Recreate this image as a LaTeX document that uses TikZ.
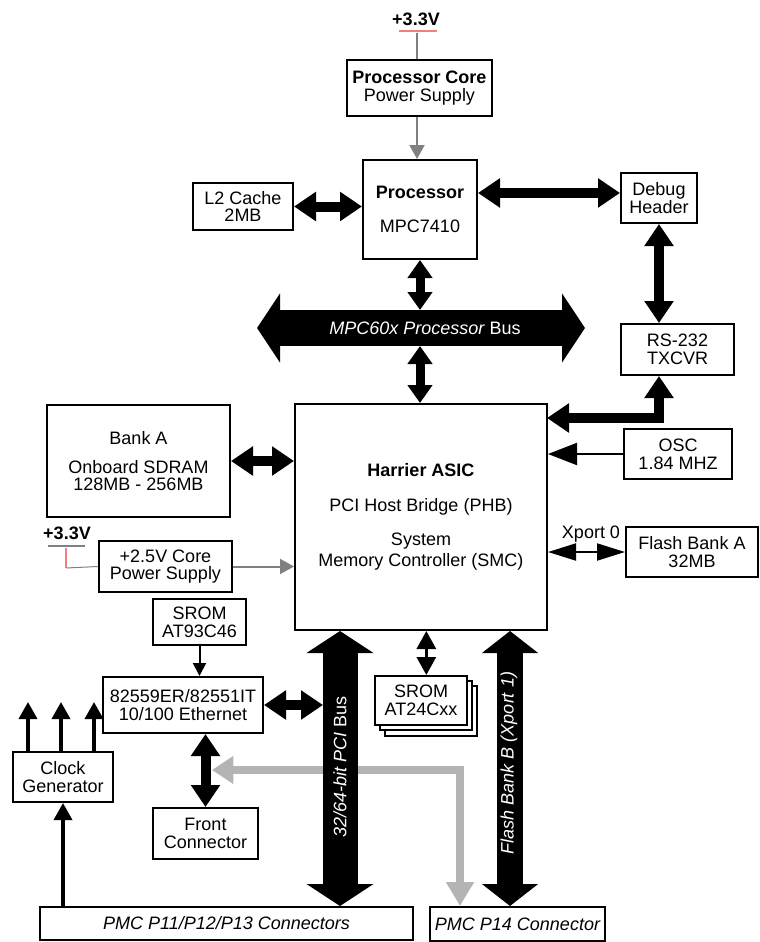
\documentclass[tikz,border=0pt]{standalone}
\usepackage{fontspec}
\setmainfont{Liberation Sans}
\usetikzlibrary{arrows.meta}
\definecolor{lred}{RGB}{240,128,128}
\definecolor{gline}{RGB}{128,128,128}
\definecolor{lgray}{RGB}{180,180,180}
\newcommand\fs{\fontsize{13.5pt}{13.3pt}\selectfont}
\tikzset{
 box/.style={draw, line width=1.5pt, inner sep=0pt, align=center, font=\fs, fill=white},
 sz/.style 2 args={minimum width=#1*0.75pt, minimum height=#2*0.75pt},
 fat/.style={line width=7.5pt, {Triangle[length=16.5pt,width=21pt]}-{Triangle[length=16.5pt,width=21pt]}},
 fats/.style={line width=6.75pt, {Triangle[length=13.5pt,width=18pt]}-{Triangle[length=13.5pt,width=18pt]}},
 mpcbus/.style={line width=27pt, {Triangle[length=17.25pt,width=51pt]}-{Triangle[length=17.25pt,width=51pt]}},
 pcibus/.style={line width=26.25pt, {Triangle[length=16.5pt,width=49.5pt]}-{Triangle[length=16.5pt,width=49.5pt]}},
 fbbus/.style={line width=19.5pt, {Triangle[length=16.5pt,width=41.25pt]}-{Triangle[length=16.5pt,width=41.25pt]}},
 oscarrow/.style={line width=1.5pt, -{Triangle[length=21.75pt,width=16.5pt]}},
 xparrow/.style={line width=1.5pt, {Triangle[length=21pt,width=12.75pt]}-{Triangle[length=21pt,width=12.75pt]}},
 sromarrow/.style={line width=1.5pt, -{Triangle[length=9.75pt,width=9.75pt]}},
 s24arrow/.style={line width=2.25pt, {Triangle[length=13.5pt,width=14.25pt]}-{Triangle[length=13.5pt,width=14.25pt]}},
 clkarrow/.style={line width=2.6pt, -{Triangle[length=12.75pt,width=13.5pt]}},
 psarrow/.style={gline, line width=1.5pt, -{Triangle[length=10.5pt,width=11.25pt]}},
 grayarrow/.style={lgray, line width=6pt, {Triangle[length=16pt,width=20pt]}-{Triangle[length=18pt,width=20pt]}},
 bustext/.style={text=white, font=\fs, inner sep=0pt}
}
\begin{document}
\begin{tikzpicture}[x=0.75pt,y=-0.75pt]
\useasboundingbox (0,0) rectangle (760,942);

% boxes
\node[box, sz={145}{56}] (pcps) at (419.5,88) {{\bfseries Processor Core}\\Power Supply};
\node[box, sz={114}{99}] (proc) at (420,209.5) {\textbf{Processor}\\[12pt]MPC7410};
\node[box, sz={100}{47}] (l2) at (243,206.5) {L2 Cache\\2MB};
\node[box, sz={76}{50}] (debug) at (659,198) {Debug\\Header};
\node[box, sz={113}{51}] (rs232) at (677.5,349.5) {RS-232\\TXCVR};
\node[box, sz={252}{226}] (harrier) at (421,517) {\textbf{Harrier ASIC}\\[12.75pt]PCI Host Bridge (PHB)\\[12.4pt]System\\[2pt]Memory Controller (SMC)};
\node[box, sz={108}{50}] (osc) at (678,454) {OSC\\1.84 MHZ};
\node[box, sz={132}{50}] (flashA) at (692,552) {Flash Bank A\\32MB};
\node[box, sz={183}{112}] (bankA) at (138.5,461) {Bank A\\[8.5pt]Onboard SDRAM\\128MB - 256MB};
\node[box, sz={133}{51}] (ps25) at (165.5,566.5) {+2.5V Core\\Power Supply};
\node[box, sz={93}{46}] (srom93) at (199.5,622) {SROM\\AT93C46};
\node[box, sz={160}{56}] (eth) at (183,705) {82559ER/82551IT\\10/100 Ethernet};
\node[box, sz={100}{50}] (clk) at (63,777) {Clock\\Generator};
\node[box, sz={105}{51}] (front) at (205.5,833.5) {Front\\Connector};
\draw[line width=1.5pt, fill=white] (385,686) rectangle (477,736);
\draw[line width=1.5pt, fill=white] (380,681) rectangle (472,730);
\node[box, sz={92}{49}] (srom24) at (421,700.5) {SROM\\AT24Cxx};
\node[box, sz={373}{33}, font=\fs\itshape] (pmc1) at (226.5,923.5) {PMC P11/P12/P13 Connectors};
\node[box, sz={175}{34}, font=\fs\itshape] (pmc14) at (517.5,924) {PMC P14 Connector};

% labels
\node[font=\fs\bfseries, inner sep=0pt] (v33t) at (416,19) {+3.3V};
\node[font=\fs\bfseries, inner sep=0pt] (v33l) at (67,533) {+3.3V};
\node[font=\fs, inner sep=0pt] (xp0) at (591,534) {Xport 0};

% power lines
\coordinate (topv) at (417,33);
\draw[lred, line width=1.5pt] (399,31) -- (437,31);
\draw[gline, line width=1.5pt] (topv) -- (pcps.north -| topv);
\draw[psarrow] (pcps.south -| topv) -- (proc.north -| topv);
\coordinate (lv) at (66,568);
\draw[gline, line width=1.2pt] (48,546) -- (85,546);
\draw[lred, line width=1.2pt] (66,548) -- (lv);
\draw[gline, line width=0.75pt] (lv) -- (ps25.west);
\draw[psarrow] (ps25.east) -- (ps25.east -| harrier.west);

% processor bus
\coordinate (busL) at (257,328);
\coordinate (busR) at (585,328);
\coordinate (busT) at (420,310);
\coordinate (busB) at (420,346);
\draw[mpcbus] (busL) -- (busR);
\node[bustext] (bus) at (425,328) {\itshape MPC60x Processor \upshape Bus};
\draw[fats] (proc.south -| busT) -- (busT);
\draw[fats] (busB) -- (harrier.north -| busB);

% fat connectors
\draw[fat] (l2.east) -- (l2.east -| proc.west);
\draw[fat] ([yshift=12.4pt]proc.east) -- ([yshift=12.4pt]proc.east -| debug.west);
\draw[fat] (debug.south) -- (rs232.north -| debug.south);
\coordinate (rsH) at (547,418);
\draw[fat] (rs232.south -| debug.south) |- (rsH);
\draw[fat] (bankA.east) -- (bankA.east -| harrier.west);
\draw[oscarrow] (osc.west) -- (osc.west -| harrier.east);
\draw[xparrow] (flashA.west) -- (flashA.west -| harrier.east);

% gray PCI path
\coordinate (gL) at (212,770);
\coordinate (gX) at (460,0);
\draw[grayarrow] (gL) -| (pmc14.north -| gX);

% ethernet area
\draw[sromarrow] (srom93.south) -- (srom93.south |- eth.north);
\coordinate (pciL) at (323,705);
\draw[fat] (eth.east) -- (pciL);
\draw[fat] (front.north |- eth.south) -- (front.north);
\coordinate (c1) at (28,702);
\coordinate (c2) at (61,702);
\coordinate (c3) at (94,702);
\draw[clkarrow] (clk.north -| c1) -- (c1);
\draw[clkarrow] (clk.north -| c2) -- (c2);
\draw[clkarrow] (clk.north -| c3) -- (c3);
\draw[clkarrow] (clk.south |- pmc1.north) -- (clk.south);

% PCI and flash B buses
\coordinate (pciX) at (340,0);
\coordinate (fbX) at (510,0);
\draw[pcibus] (harrier.south -| pciX) -- (pmc1.north -| pciX);
\node[bustext, rotate=90] (pcitext) at (340,767) {\itshape 32/64-bit PCI \upshape Bus};
\draw[fbbus] (harrier.south -| fbX) -- (pmc14.north -| fbX);
\node[bustext, rotate=90, font=\fs\itshape] (fbtext) at (509,763) {Flash Bank B (Xport 1)};
\draw[s24arrow] ([xshift=4pt]srom24.north) -- ([xshift=4pt]srom24.north |- harrier.south);
\end{tikzpicture}
\end{document}
